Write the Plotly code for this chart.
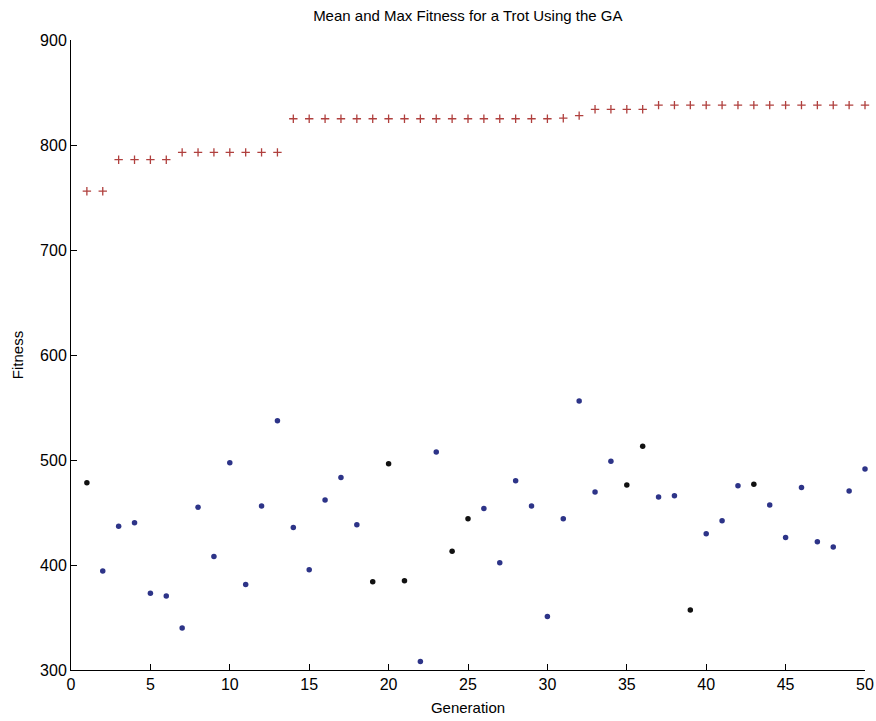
import plotly.graph_objects as go

generations = list(range(1, 51))

max_fitness = [756, 756, 786, 786, 786, 786,
               793, 793, 793, 793, 793, 793, 793,
               825, 825, 825, 825, 825, 825, 825, 825, 825, 825,
               825, 825, 825, 825, 825, 825, 825, 825.5,
               828, 834, 834, 834, 834,
               838, 838, 838, 838, 838, 838, 838, 838, 838, 838, 838, 838, 838, 838]

mean_fitness = [478.4, 394.3, 436.8, 440.3, 373.0, 370.5, 340.0, 454.9, 408.2, 497.4,
                381.5, 456.2, 537.4, 435.8, 395.5, 461.9, 483.4, 438.4, 384.1, 496.5,
                385.0, 308.2, 507.6, 413.0, 444.1, 453.9, 402.2, 480.3, 456.2, 351.0,
                444.1, 556.2, 469.5, 498.7, 476.2, 513.0, 464.8, 466.0, 357.1, 429.8,
                442.2, 475.5, 476.8, 457.1, 426.3, 473.9, 422.2, 417.1, 470.5, 491.4]

# generations whose dots print darker (near black) in the reference
dark_gens = [1, 19, 20, 21, 24, 25, 35, 36, 39, 43]
mean_colors = ["#111111" if g in dark_gens else "#2d3488" for g in generations]

font = "Liberation Sans, Arial, sans-serif"

fig = go.Figure()
fig.add_trace(go.Scatter(
    x=generations, y=max_fitness, mode="markers", name="Max",
    marker=dict(symbol="cross-thin", size=6, line=dict(width=1.3, color="#b0403e"), color="#b0403e"),
    cliponaxis=False,
))
fig.add_trace(go.Scatter(
    x=generations, y=mean_fitness, mode="markers", name="Mean",
    marker=dict(symbol="circle", size=5.5, color=mean_colors),
    cliponaxis=False,
))

fig.update_layout(
    width=876, height=721,
    margin=dict(l=71, r=11, t=40, b=51),
    paper_bgcolor="white", plot_bgcolor="white",
    showlegend=False,
    font=dict(family=font, size=15, color="black"),
    title=dict(text="Mean and Max Fitness for a Trot Using the GA",
               x=0.534, xanchor="center", y=0.978, yanchor="middle",
               font=dict(family=font, size=15, color="black")),
)
fig.update_xaxes(
    range=[0, 50], tickvals=list(range(0, 51, 5)),
    ticks="inside", ticklen=6, tickcolor="black",
    showline=True, linecolor="black", linewidth=1, mirror=False,
    showgrid=False, zeroline=False, automargin=False,
    title=dict(text="Generation", standoff=10, font=dict(family=font, size=15)),
    tickfont=dict(family=font, size=16),
)
fig.update_yaxes(
    range=[300, 900], tickvals=list(range(300, 901, 100)),
    ticks="inside", ticklen=6, tickcolor="black",
    showline=True, linecolor="black", linewidth=1, mirror=False,
    showgrid=False, zeroline=False, automargin=False,
    title=dict(text="Fitness", standoff=12, font=dict(family=font, size=15)),
    tickfont=dict(family=font, size=16),
)

fig.write_html("out.html")
